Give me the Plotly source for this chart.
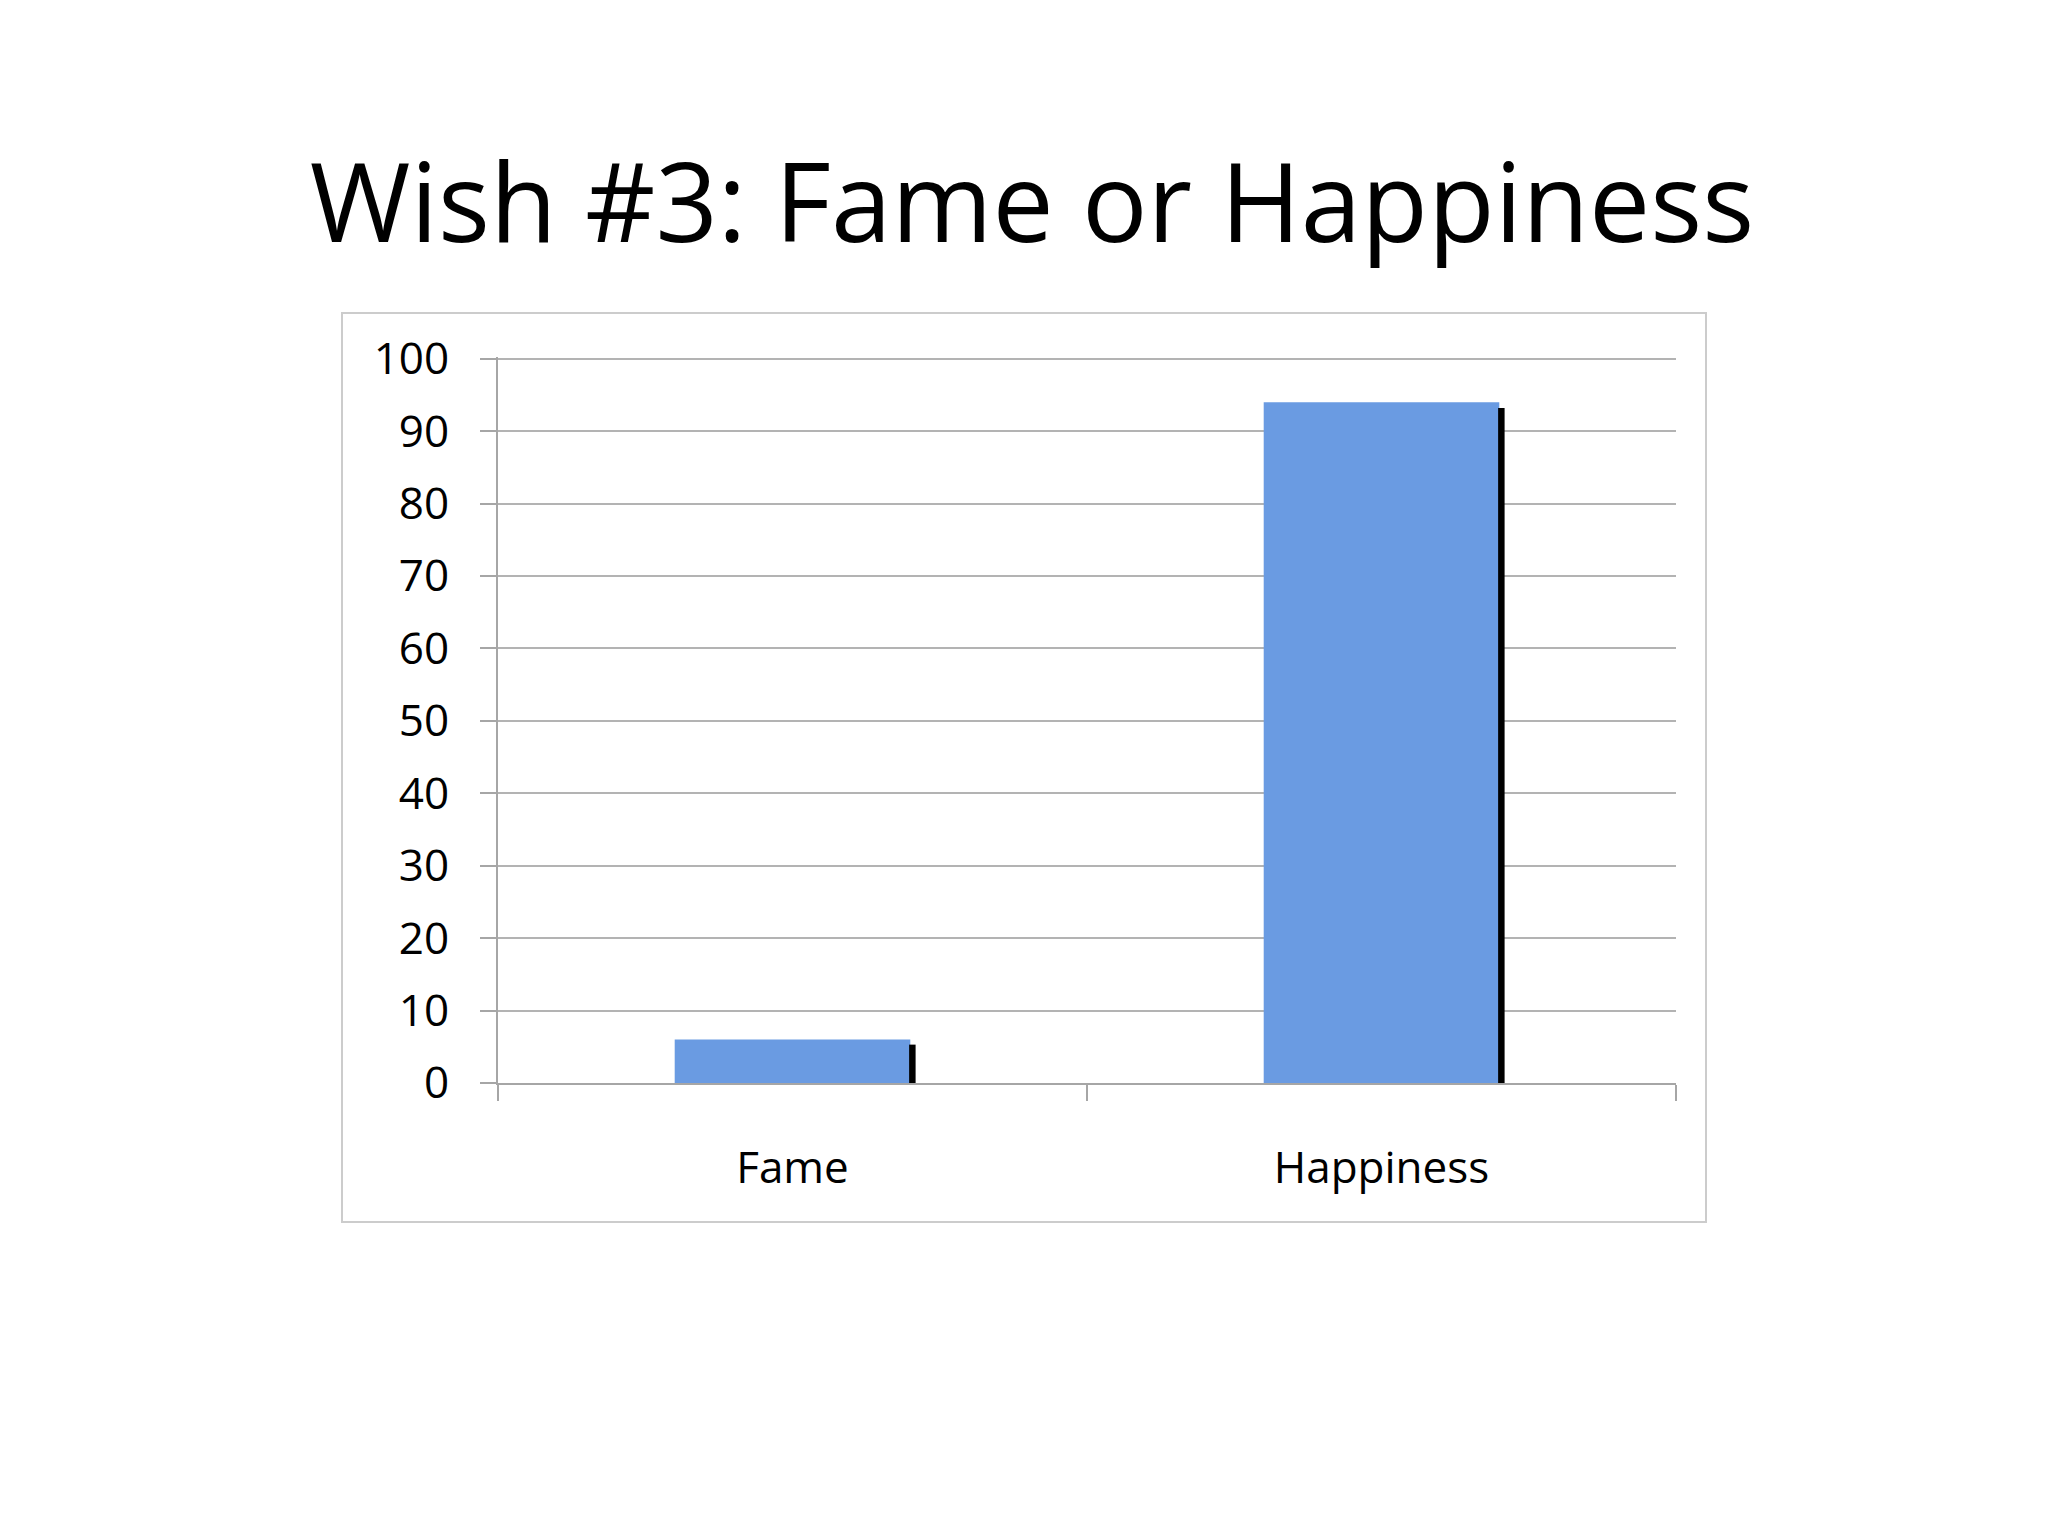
import plotly.graph_objects as go

categorias = ['Fame', 'Happiness']
valores = [6, 94]
sombra = [5.3, 93.2]  # the black edge on the right of each bar sits a little lower
titulo = 'Wish #3: Fame or Happiness'
fonte = 'Open Sans'

fig = go.Figure()

fig.add_trace(go.Bar(
    x=categorias,
    y=valores,
    width=0.4,
    marker=dict(color='#6a9be2', line=dict(width=0)),
    showlegend=False,
))

# sombra preta na borda direita
fig.add_trace(go.Bar(
    x=categorias,
    y=sombra,
    width=0.011,
    offset=0.198,
    marker=dict(color='#000000', line=dict(width=0)),
    showlegend=False,
))

fig.update_layout(
    barmode='overlay',
    width=2048,
    height=1536,
    plot_bgcolor='white',
    paper_bgcolor='white',
    margin=dict(l=490, r=380, t=349, b=461),
    font=dict(family=fonte, color='black'),
    title=dict(
        text=titulo,
        x=0.5, xanchor='center',
        y=1 - 196 / 1536, yanchor='middle',
        font=dict(size=109, family=fonte, color='black'),
    ),
    xaxis=dict(
        type='category',
        showline=True, linecolor='#a6a6a6', linewidth=2,
        ticks='outside', tickson='boundaries', ticklen=16,
        tickcolor='#a6a6a6', tickwidth=2,
        tickfont=dict(size=44, color='black'),
        ticklabelstandoff=45,
        showgrid=False,
    ),
    yaxis=dict(
        range=[0, 100.25], dtick=10,
        showline=True, linecolor='#a6a6a6', linewidth=2,
        ticks='outside', ticklen=16, tickcolor='#a6a6a6', tickwidth=2,
        tickfont=dict(size=44, color='black'),
        ticklabelstandoff=22,
        showgrid=True, gridcolor='#b3b3b3', gridwidth=2,
        zeroline=False,
    ),
    shapes=[dict(
        type='rect', xref='paper', yref='paper',
        x0=-156 / 1178, x1=1 + 30 / 1178,
        y0=-139 / 726, y1=1 + 44 / 726,
        line=dict(color='#cccccc', width=2),
        fillcolor='rgba(0,0,0,0)', layer='below',
    )],
)

fig.write_html('out.html')
